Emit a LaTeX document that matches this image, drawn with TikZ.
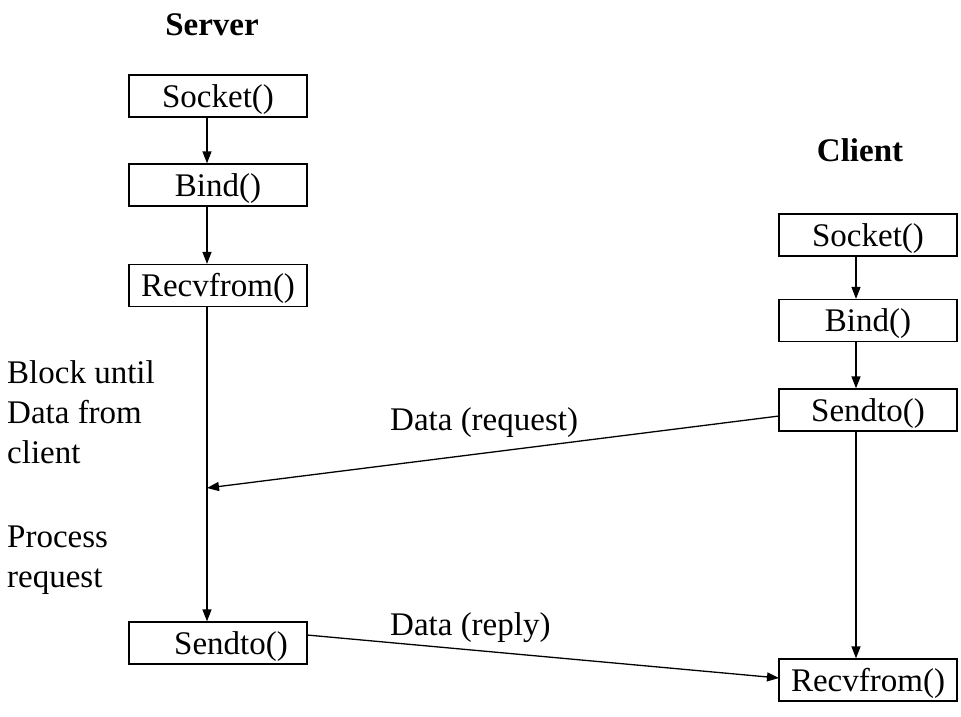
\documentclass[tikz,border=0pt]{standalone}
\usepackage{fontspec}
\setmainfont{Liberation Serif}
\usetikzlibrary{arrows.meta}
\begin{document}
\begin{tikzpicture}[x=1pt,y=-1pt,
  every node/.style={font=\fontsize{33}{40}\selectfont},
  box/.style={draw,line width=1.3pt,minimum width=178pt,minimum height=42pt,inner sep=0pt,text height=22pt,text depth=0pt},
  lbl/.style={anchor=base west,inner sep=0pt},
  ttl/.style={font=\fontsize{33}{40}\selectfont\bfseries,inner sep=0pt},
  conn/.style={line width=1.3pt,-{Triangle[length=12pt,width=9pt]}}]
\path[use as bounding box] (0,0) rectangle (961,716);
% titles
\node[ttl] (tserver) at (212,25) {Server};
\node[ttl] (tclient) at (860,150) {Client};
% server boxes
\node[box] (ssock) at (218,96) {Socket()};
\node[box] (sbind) at (218,185) {Bind()};
\node[box] (srecv) at (218,285.5) {Recvfrom()};
\node[box] (ssend) at (218,643) {\hspace{26pt}Sendto()};
% client boxes
\node[box] (csock) at (868,235) {Socket()};
\node[box] (cbind) at (868,320.5) {Bind()};
\node[box] (csend) at (868,410) {Sendto()};
\node[box] (crecv) at (868,680) {Recvfrom()};
% helper coordinates
\coordinate (sx) at (207,0);
\coordinate (cx) at (856,0);
\coordinate (rq) at (207,488);
\coordinate (rqs) at (779,416);
\coordinate (rps) at (307,635);
\coordinate (rpe) at (779,678);
% server flow
\draw[conn] (ssock.south -| sx) -- (sbind.north -| sx);
\draw[conn] (sbind.south -| sx) -- (srecv.north -| sx);
\draw[conn] (srecv.south -| sx) -- (ssend.north -| sx);
% client flow
\draw[conn] (csock.south -| cx) -- (cbind.north -| cx);
\draw[conn] (cbind.south -| cx) -- (csend.north -| cx);
\draw[conn] (csend.south -| cx) -- (crecv.north -| cx);
% messages
\draw[conn] (rqs) -- (rq);
\draw[conn] (rps) -- (rpe);
\node[lbl] (lreq) at (390,430) {Data (request)};
\node[lbl] (lrep) at (390,635) {Data (reply)};
% left notes
\node[lbl] (n1) at (7,383) {Block until};
\node[lbl] (n2) at (7,423) {Data from};
\node[lbl] (n3) at (7,463) {client};
\node[lbl] (n4) at (7,547) {Process};
\node[lbl] (n5) at (7,587) {request};
\end{tikzpicture}
\end{document}
